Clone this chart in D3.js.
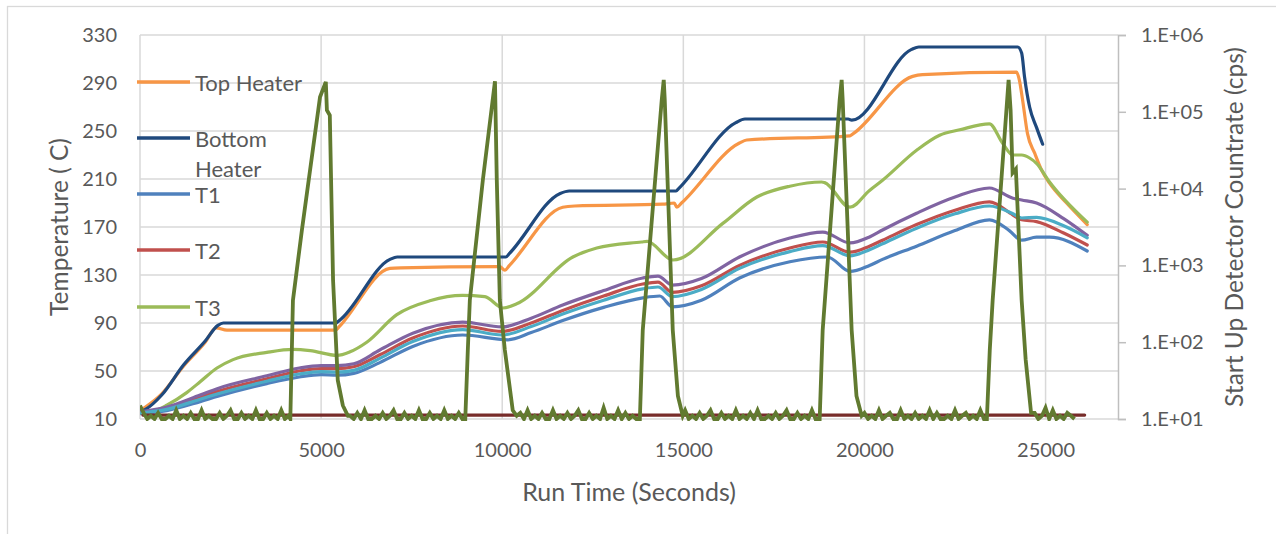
<!DOCTYPE html>
<html>
<head>
<meta charset="utf-8">
<script src="https://cdn.jsdelivr.net/npm/d3@7"></script>
<style>
  body { margin: 0; background: #fff; }
  text { font-family: Lato, "Open Sans", sans-serif; fill: #595959; }
</style>
</head>
<body>
<svg id="chart" width="1276" height="534"></svg>
<script>
// ---- data (time in s, temperature in C, count rate in cps) ----
const tempTicks = [10, 50, 90, 130, 170, 210, 250, 290, 330];
const timeTicks = [0, 5000, 10000, 15000, 20000, 25000];
const countTicks = [1e1, 1e2, 1e3, 1e4, 1e5, 1e6];
const countTickLabels = ["1.E+01", "1.E+02", "1.E+03", "1.E+04", "1.E+05", "1.E+06"];
const legendLabels = ["Top Heater", "Bottom Heater", "T1", "T2", "T3"];

const topHeater = [[0,17],[150,20],[600,31],[1200,54],[1800,74],[2100,86],[2400,84],[5400,84],[5500,87],
  [6900,135.5],[7200,136],[9930,137],[10070,134],[10200,138],[11670,186.5],[12000,187.5],[14430,189],
  [14750,190],[14820,186.5],[14950,190],[16550,240],[16750,242.5],[19600,246],[19700,248],[21330,295.5],
  [21600,297],[24200,299],[24280,292],[24365,276],[24500,248],[24700,231.5],[24890,217.5],[25110,206.5],
  [25580,190],[26150,172]];
const bottomHeater = [[0,16],[150,18],[600,30],[1200,55],[1800,75],[2150,88],[2300,90],[5400,90],[5500,92],
  [6900,143],[7100,145],[10100,145],[10200,148],[11600,198],[11850,200],[14800,200],[14870,202],[16450,257],
  [16700,260],[19550,260],[19650,259],[21300,318],[21500,320],[24230,320],[24340,315],[24420,295],
  [24560,270],[24750,253],[24920,239]];
const t1 = [[0,14.5],[740,17],[1660,24.5],[2150,29],[3500,39.5],[4400,45],[5000,47],[5440,46.5],[5900,48],
  [6620,57],[7530,70.5],[8910,80],[10150,76],[10800,82],[11670,92],[12800,103],[13880,111],[14350,112.5],
  [14700,103.5],[15500,109],[16550,127.5],[17940,141],[18980,145],[19600,133],[20140,138],[20500,143],
  [21440,154],[22500,167],[23450,176],[24000,167],[24340,159],[24750,161.5],[25110,161.5],[26150,150]];
const t2 = [[0,15.5],[740,19],[1660,28],[2150,33],[3500,43.5],[4400,50],[5000,52],[5440,52],[5900,53.5],
  [6620,63.5],[7530,77.5],[8910,87.5],[9990,83],[10800,90],[11670,100.5],[12800,112.5],[13880,122.5],
  [14300,124],[14700,115.5],[15500,121],[16550,138],[17940,152.5],[18850,157.5],[19600,149],[20140,154],
  [20500,159],[21440,172],[22500,184],[23450,191],[24100,180],[24340,176],[24750,174.5],[25500,165],[26150,155]];
const t3 = [[0,15],[470,17.5],[740,21.5],[1290,32],[1660,41],[2125,52.5],[2570,59.5],[3500,65.5],[4220,68],
  [4700,67],[5440,63],[5800,66],[6260,74],[7090,97],[8000,108.5],[8900,113],[9520,112],[10020,102.5],
  [10400,106],[11950,145],[12610,152.5],[13850,157.5],[14000,158],[14620,143.5],[14710,142.5],[16090,173],
  [17030,195],[17940,204],[18820,207.5],[18900,207],[19600,186.5],[20140,200.5],[20500,209],[21440,234],
  [22075,246.5],[22630,251],[23450,256],[23810,240],[24100,230],[24340,230],[24560,227.5],[24750,223],
  [25110,207.5],[26150,174]];
const t4 = [[0,16],[740,20],[1660,30],[2150,35.5],[3500,46],[4400,52.5],[5000,54.5],[5440,54.5],[5900,56],
  [6620,67.5],[7530,81.5],[8910,90.8],[9990,86.7],[10800,94],[11670,105],[12800,117],[13880,127.5],
  [14300,129],[14700,121.5],[15500,127],[16550,145],[17940,160.8],[18850,165.8],[19600,156.7],[20140,161.7],
  [20500,167.5],[21440,181.5],[22500,195],[23450,202.5],[24100,194],[24340,192.5],[24750,190],[25500,177],
  [26150,163]];
const t5 = [[0,15],[740,18],[1660,26.5],[2150,31],[3500,41.5],[4400,47.5],[5000,49.5],[5440,49],[5900,50.5],
  [6620,60.5],[7530,74.5],[8910,84.5],[9990,80],[10800,87],[11670,97.5],[12800,109],[13880,118.5],
  [14300,120],[14700,112],[15500,118],[16550,135.5],[17940,149.5],[18850,154.5],[19600,146],[20140,151],
  [20500,156],[21440,169],[22500,181],[23450,187.5],[24100,181],[24340,177.5],[24750,178],[25500,171],
  [26150,161]];
const t6 = [[80,13.3],[26080,13.3]];

// start up detector: noisy floor sampled every 100 s, plus the five bursts
const noiseStep = 100;
const noiseStarts = [0, 5800, 10500, 15050, 20000, 24700];
const noiseA = [15,12,10,11,10,12,10,10,11,10,13,10,11,10,12,10,10,13,10,11,10,10,12,10,11,13,10,10,12,10,
  11,10,13,10,10,12,10,11,10,13,10,11];
const noiseB = [11,10,12,10,13,10,10,11,10,12,10,11,13,10,10,12,10,11,10,13,10,10,12,10,11,10,13,10,11,10,12,10];
const noiseC = [12,10,13,10,11,10,12,10,10,13,10,11,10,12,10,11,13,10,10,12,10,11,10,14,10,11,10,13,10,12,
  10,11,10];
const noiseD = [13,10,11,10,12,10,11,13,10,10,12,10,11,10,13,10,11,10,12,10,13,10,10,11,10,12,10,11,13,10,
  10,12,10,11,10,13,10];
const noiseE = [12,10,11,10,13,10,11,12,10,10,13,10,11,10,12,10,11,10,13,10,12,10,10,11,10,13,10,11,12,10,
  11,10,13,10];
const noiseF = [12,10,11,14,10,13,10,11,10,12,11,10];
const peak1 = [[4150,10],[4222,350],[4470,2900],[4970,156000],[5130,245000],[5160,105000],[5240,90000],
  [5330,640],[5460,32],[5600,15],[5740,11]];
const peak2 = [[8980,10],[9050,79],[9106,354],[9465,12900],[9800,250000],[9850,12900],[9934,354],
  [10072,79],[10290,13],[10400,11]];
const peak3 = [[13800,10],[13880,144],[14404,143000],[14459,260000],[14487,143000],[14708,144],
  [14850,20],[14983,11]];
const peak4 = [[18764,10],[18847,144],[19316,143000],[19371,260000],[19399,143000],[19647,144],
  [19780,20],[19923,11]];
const peak5 = [[23380,10],[23460,79],[23540,354],[23980,260000],[24035,105000],[24090,16000],
  [24180,18000],[24340,354],[24450,60],[24600,12]];

// ---- layout ----
const W = 1276, H = 534;
const plot = {left: 140, right: 1118, top: 35, bottom: 419};

let svg = d3.select("#chart");

// outer chart border
svg.append("rect")
  .attr("x", 7.5).attr("y", 6.5)
  .attr("width", W + 50).attr("height", H + 50)
  .attr("fill", "none").attr("stroke", "#d9d9d9").attr("stroke-width", 1.3);

let x = d3.scaleLinear().domain([0, 27000]).range([plot.left, plot.right]);
let y = d3.scaleLinear().domain([10, 330]).range([plot.bottom, plot.top]);
let y2 = d3.scaleLog().domain([10, 1e6]).range([plot.bottom, plot.top]);

// gridlines
let grid = svg.append("g").attr("id", "grid");
grid.selectAll("line.h").data(tempTicks).enter().append("line")
  .attr("x1", plot.left).attr("x2", plot.right)
  .attr("y1", d => y(d)).attr("y2", d => y(d))
  .style("stroke", "#d9d9d9").style("stroke-width", 1.5);
grid.selectAll("line.v").data(timeTicks).enter().append("line")
  .attr("x1", d => x(d)).attr("x2", d => x(d))
  .attr("y1", plot.top).attr("y2", plot.bottom)
  .style("stroke", "#d9d9d9").style("stroke-width", 1.5);

// axes
let yAxis = svg.append("g").attr("transform", "translate(" + plot.left + ",0)")
  .call(d3.axisLeft(y).tickValues(tempTicks).tickSize(0).tickPadding(23));
let xAxis = svg.append("g").attr("transform", "translate(0," + plot.bottom + ")")
  .call(d3.axisBottom(x).tickValues(timeTicks).tickSize(0).tickPadding(24).tickFormat(d3.format("d")));
let y2Axis = svg.append("g").attr("transform", "translate(" + plot.right + ",0)")
  .call(d3.axisRight(y2).tickValues(countTicks).tickSize(8).tickPadding(15)
    .tickFormat((d, i) => countTickLabels[i]));
[yAxis, xAxis].forEach(a => a.select(".domain").remove());
y2Axis.select(".domain").style("stroke", "#bfbfbf").style("stroke-width", 1.5);
y2Axis.selectAll(".tick line").style("stroke", "#bfbfbf").style("stroke-width", 1.5);
svg.selectAll(".tick text").style("font-size", "20px").style("fill", "#595959")
  .style("font-family", "Lato, 'Open Sans', sans-serif");

// axis titles
svg.append("text").attr("transform", "translate(58," + (plot.top + plot.bottom) / 2 + ") rotate(-90)")
  .attr("text-anchor", "middle").attr("dominant-baseline", "central")
  .style("font-size", "24.5px").text("Temperature ( C)");
svg.append("text").attr("transform", "translate(1233," + (plot.top + plot.bottom) / 2 + ") rotate(-90)")
  .attr("text-anchor", "middle").attr("dominant-baseline", "central")
  .style("font-size", "24.5px").text("Start Up Detector Countrate (cps)");
svg.append("text").attr("x", (plot.left + plot.right) / 2).attr("y", 491)
  .attr("text-anchor", "middle").attr("dominant-baseline", "central")
  .style("font-size", "25px").text("Run Time (Seconds)");

// series
svg.append("clipPath").attr("id", "plotclip").append("rect")
  .attr("x", plot.left).attr("y", plot.top - 10)
  .attr("width", plot.right - plot.left).attr("height", plot.bottom - plot.top + 12);

let series = [
  {name: "Top Heater", data: topHeater, color: "#f79646"},
  {name: "Bottom Heater", data: bottomHeater, color: "#1f497d"},
  {name: "T1", data: t1, color: "#4f81bd"},
  {name: "T2", data: t2, color: "#c0504d"},
  {name: "T3", data: t3, color: "#9bbb59"},
  {name: "T4", data: t4, color: "#8064a2"},
  {name: "T5", data: t5, color: "#4bacc6"},
  {name: "T6", data: t6, color: "#772c2a"}
];

let line = d3.line().x(d => x(d[0])).y(d => y(d[1])).curve(d3.curveMonotoneX);
let lines = svg.append("g").attr("clip-path", "url(#plotclip)");
lines.selectAll("path.temp").data(series).enter().append("path")
  .attr("d", d => line(d.data))
  .style("fill", "none").style("stroke", d => d.color)
  .style("stroke-width", 3.2).style("stroke-linejoin", "round").style("stroke-linecap", "round");

// detector on the log axis
let noiseSets = [noiseA, noiseB, noiseC, noiseD, noiseE, noiseF];
let peaks = [peak1, peak2, peak3, peak4, peak5];
let detector = [];
noiseSets.forEach(function(vals, k) {
  vals.forEach((v, i) => detector.push([noiseStarts[k] + i * noiseStep, v]));
  if (peaks[k]) peaks[k].forEach(p => detector.push(p));
});
let line2 = d3.line().x(d => x(d[0])).y(d => y2(d[1]));
lines.append("path").attr("d", line2(detector))
  .style("fill", "none").style("stroke", "#617a30")
  .style("stroke-width", 3.8).style("stroke-linejoin", "miter");

// legend (inside plot, left side, wraps long labels)
let legendY = [82, 138, 194, 250, 307];
let legend = svg.append("g").attr("id", "legend");
legendLabels.forEach(function(name, i) {
  let g = legend.append("g");
  g.append("line").attr("x1", 137).attr("x2", 190).attr("y1", legendY[i]).attr("y2", legendY[i])
    .style("stroke", series[i].color).style("stroke-width", 3.5);
  let t = g.append("text").attr("x", 195).attr("y", legendY[i])
    .attr("dominant-baseline", "central").style("font-size", "22px");
  let words = name.split(" ");
  t.text(name);
  if (t.node().getComputedTextLength() > 118 && words.length > 1) {
    t.text(null);
    words.forEach((w, j) => t.append("tspan").attr("x", 195).attr("y", legendY[i] + j * 30).text(w));
  }
});
</script>
</body>
</html>
